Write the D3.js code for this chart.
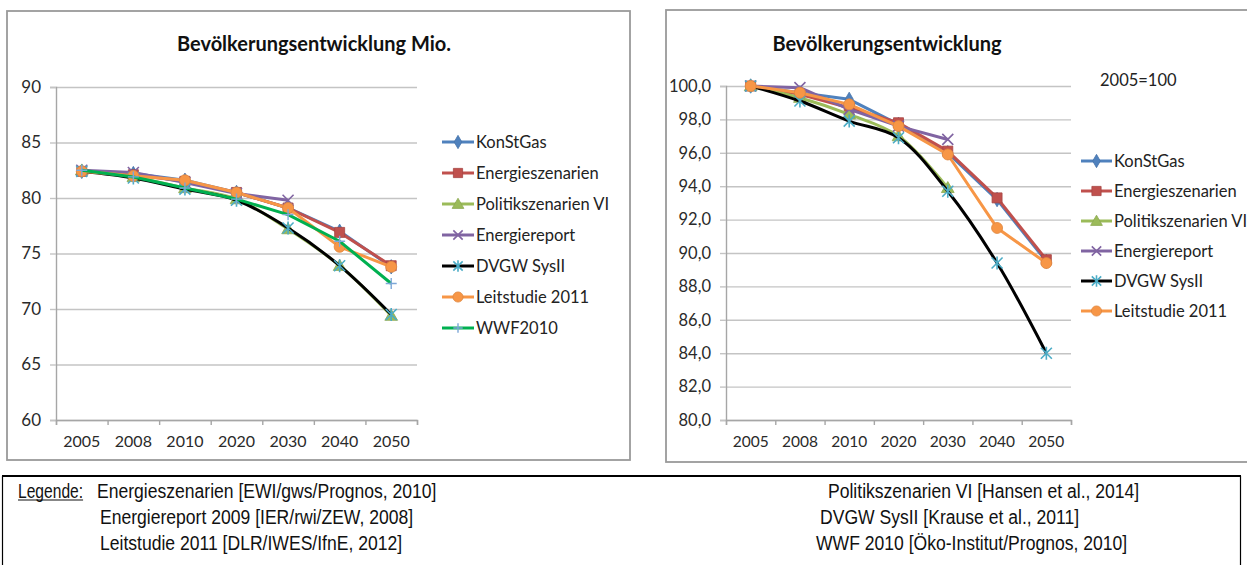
<!DOCTYPE html>
<html><head><meta charset="utf-8">
<script src="https://cdnjs.cloudflare.com/ajax/libs/d3/7.8.5/d3.min.js"></script>
<style>
html,body{margin:0;padding:0;background:#fff;}
svg{display:block;}
</style>
</head><body>
<svg id="c" width="1247" height="565"></svg>
<script>
// ---------- DATA ----------
const categories = ["2005","2008","2010","2020","2030","2040","2050"];
const seriesNames = ["KonStGas","Energieszenarien","Politikszenarien VI","Energiereport","DVGW SysII","Leitstudie 2011","WWF2010"];

// Left chart: Bevölkerung in Mio.
const konstgasMio        = [82.4, 82.2, 81.6, 80.5, 79.1, 77.0, 73.8];
const energieszenarienMio= [82.4, 82.1, 81.5, 80.5, 79.1, 76.9, 73.9];
const politikMio         = [82.5, 81.9, 80.9, 79.9, 77.2, 73.9, 69.4];
const energiereportMio   = [82.5, 82.3, 81.4, 80.4, 79.8, null, null];
const dvgwMio            = [82.4, 81.8, 80.8, 79.8, 77.3, 73.9, 69.5];
const leitstudieMio      = [82.4, 82.0, 81.6, 80.5, 79.1, 75.6, 73.8];
const wwfMio             = [82.5, 81.9, 80.9, 79.9, 78.5, 76.1, 72.3];

// Right chart: index 2005=100
const konstgasIdx        = [100, 99.6, 99.2, 97.7, 96.0, 93.2, 89.5];
const energieszenarienIdx= [100, 99.5, 98.7, 97.8, 96.1, 93.3, 89.6];
const politikIdx         = [100, 99.3, 98.3, 97.0, 93.9, null, null];
const energiereportIdx   = [100, 99.9, 98.6, 97.6, 96.8, null, null];
const dvgwIdx            = [100, 99.1, 97.9, 96.9, 93.7, 89.4, 84.0];
const leitstudieIdx      = [100, 99.6, 98.9, 97.6, 95.9, 91.5, 89.4];

const leftTicks  = [60, 65, 70, 75, 80, 85, 90];
const rightTicks = [80, 82, 84, 86, 88, 90, 92, 94, 96, 98, 100];

const leftTitle  = "Bevölkerungsentwicklung Mio.";
const rightTitle = "Bevölkerungsentwicklung";
const rightNote  = "2005=100";

const legendLabel = "Legende:";
const sourcesLeft  = ["Energieszenarien [EWI/gws/Prognos, 2010]","Energiereport 2009 [IER/rwi/ZEW, 2008]","Leitstudie 2011 [DLR/IWES/IfnE, 2012]"];
const sourcesRight = ["Politikszenarien VI [Hansen et al., 2014]","DVGW SysII [Krause et al., 2011]","WWF 2010 [Öko-Institut/Prognos, 2010]"];

// ---------- STYLES ----------
const styles = {
  "KonStGas":            {line:"#4F81BD", fill:"#4F81BD", marker:"diamond", curve:false},
  "Energieszenarien":    {line:"#C0504D", fill:"#C0504D", marker:"square",  curve:false},
  "Politikszenarien VI": {line:"#9BBB59", fill:"#9BBB59", marker:"triangle",curve:true},
  "Energiereport":       {line:"#8064A2", fill:"#8064A2", marker:"x",       curve:false},
  "DVGW SysII":          {line:"#000000", fill:"#4BACC6", marker:"star",    curve:true},
  "Leitstudie 2011":     {line:"#F79646", fill:"#F79646", marker:"circle",  curve:false},
  "WWF2010":             {line:"#00B050", fill:"#7DA7D8", marker:"plus",    curve:false}
};

const FONT = "Lato, 'Open Sans', sans-serif";
const svg = d3.select("#c");
const commaFmt = d3.formatLocale({decimal:",", thousands:".", grouping:[3], currency:["","€"]}).format(".1f");

function drawMarker(g, type, x, y, st, s) {
  s = s || 1;
  if (type === "square") {
    g.append("path").attr("d", d3.symbol(d3.symbolSquare, 100*s)()).attr("transform",`translate(${x},${y})`)
      .attr("fill", st.fill).attr("stroke", d3.color(st.fill).darker(0.4)).attr("stroke-width",0.8);
  } else if (type === "circle") {
    g.append("path").attr("d", d3.symbol(d3.symbolCircle, 95*s)()).attr("transform",`translate(${x},${y})`)
      .attr("fill", st.fill).attr("stroke", d3.color(st.fill).darker(0.3)).attr("stroke-width",0.8);
  } else if (type === "diamond") {
    g.append("path").attr("d", d3.symbol(d3.symbolDiamond, 60*s)()).attr("transform",`translate(${x},${y})`)
      .attr("fill", st.fill).attr("stroke", d3.color(st.fill).darker(0.3)).attr("stroke-width",0.8);
  } else if (type === "triangle") {
    g.append("path").attr("d", d3.symbol(d3.symbolTriangle, 70*s)()).attr("transform",`translate(${x},${y+1})`)
      .attr("fill", st.fill).attr("stroke", d3.color(st.fill).darker(0.3)).attr("stroke-width",0.8);
  } else if (type === "x") {
    const r = 5.5*s;
    g.append("path").attr("d",`M${x-r},${y-r}L${x+r},${y+r}M${x-r},${y+r}L${x+r},${y-r}`)
      .attr("stroke", st.fill).attr("stroke-width",1.6).attr("fill","none");
  } else if (type === "star") {
    const r = 5.5*s;
    g.append("path").attr("d",`M${x-r},${y-r}L${x+r},${y+r}M${x-r},${y+r}L${x+r},${y-r}M${x},${y-r-1}L${x},${y+r+1}`)
      .attr("stroke", st.fill).attr("stroke-width",1.6).attr("fill","none");
  } else if (type === "plus") {
    const r = 5.5*s;
    g.append("path").attr("d",`M${x-r},${y}L${x+r},${y}M${x},${y-r}L${x},${y+r}`)
      .attr("stroke", st.fill).attr("stroke-width",1.4).attr("fill","none");
  }
}

function drawChart(cfg) {
  const g = svg.append("g");
  g.append("rect").attr("x",cfg.box[0]).attr("y",cfg.box[1]).attr("width",cfg.box[2]-cfg.box[0]).attr("height",cfg.box[3]-cfg.box[1])
    .attr("fill","#fff").attr("stroke","#9A9A9A").attr("stroke-width",1.8);

  const x = d3.scaleBand().domain(categories).range([cfg.x0, cfg.x1]).padding(0);
  const xl = d3.scaleLinear().domain([0, categories.length]).range([cfg.x0, cfg.x1]);
  const y = d3.scaleLinear().domain(cfg.domain).range([cfg.yBottom, cfg.yTop]);

  g.append("g").attr("transform",`translate(${cfg.x0},0)`)
    .call(d3.axisLeft(y).tickValues(cfg.ticks).tickSize(-(cfg.x1-cfg.x0)).tickFormat(""))
    .call(a => a.select(".domain").remove())
    .call(a => a.selectAll("line").attr("stroke","#C4C4C4").attr("stroke-width",1.4));
  g.append("g").attr("transform",`translate(${cfg.x0},0)`)
    .call(d3.axisLeft(y).tickValues(cfg.ticks).tickSize(6).tickPadding(cfg.yPad).tickFormat(cfg.fmt))
    .call(a => a.select(".domain").attr("stroke","#A6A6A6").attr("stroke-width",1.4))
    .call(a => a.selectAll("line").attr("stroke","#C4C4C4").attr("stroke-width",1.4))
    .call(a => a.selectAll("text").attr("font-family",FONT).attr("font-size",cfg.yFont).attr("fill","#2a2a2a"));
  g.append("g").attr("transform",`translate(0,${cfg.yBottom})`)
    .call(d3.axisBottom(xl).tickValues(d3.range(categories.length+1)).tickSize(5).tickFormat(""))
    .call(a => a.select(".domain").attr("stroke","#A6A6A6").attr("stroke-width",1.4))
    .call(a => a.selectAll("line").attr("stroke","#A6A6A6").attr("stroke-width",1.4));
  g.append("g").attr("transform",`translate(0,${cfg.yBottom})`)
    .call(d3.axisBottom(x).tickSize(0).tickPadding(cfg.xPad))
    .call(a => a.select(".domain").remove())
    .call(a => a.selectAll("text").attr("font-family",FONT).attr("font-size",cfg.xFont).attr("fill","#2a2a2a"));

  g.append("text").attr("x",cfg.titleX).attr("y",cfg.titleY).attr("text-anchor","middle").attr("dominant-baseline","central")
    .attr("font-family",FONT).attr("font-weight","bold").attr("font-size",cfg.titleFont).attr("fill","#111").text(cfg.title);
  if (cfg.note) {
    g.append("text").attr("x",cfg.note.x).attr("y",cfg.note.y).attr("dominant-baseline","central")
      .attr("font-family",FONT).attr("font-size",cfg.legFont).attr("fill","#222").text(cfg.note.text);
  }

  const lineGen = d3.line().defined(d => d.v != null).x(d => x(d.c) + x.bandwidth()/2).y(d => y(d.v));
  const marks = g.append("g");
  cfg.series.forEach(s => {
    const st = styles[s.name];
    const pts = categories.map((c,i) => ({c, v:s.values[i]}));
    marks.append("path").datum(pts)
      .attr("d", lineGen.curve(st.curve ? d3.curveCatmullRom.alpha(0.5) : d3.curveLinear))
      .attr("fill","none").attr("stroke",st.line).attr("stroke-width",3).attr("stroke-linejoin","round");
    pts.filter(p => p.v != null).forEach(p => drawMarker(marks, st.marker, x(p.c)+x.bandwidth()/2, y(p.v), st));
  });

  const lg = g.append("g");
  cfg.series.forEach((s,i) => {
    const st = styles[s.name];
    const yy = cfg.legY + i*cfg.legStep;
    lg.append("line").attr("x1",cfg.legX).attr("x2",cfg.legX+cfg.legLen).attr("y1",yy).attr("y2",yy)
      .attr("stroke",st.line).attr("stroke-width",3);
    drawMarker(lg, st.marker, cfg.legX+cfg.legLen/2, yy, st, 0.85);
    lg.append("text").attr("x",cfg.legX+cfg.legLen+2).attr("y",yy).attr("dominant-baseline","central")
      .attr("font-family",FONT).attr("font-size",cfg.legFont).attr("fill","#222").text(s.name);
  });
}

drawChart({
  box:[7,11,630,460], x0:56, x1:417, yTop:87, yBottom:420, domain:[60,90], ticks:leftTicks,
  fmt:d3.format("d"), yPad:9, yFont:17, xPad:16, xFont:16,
  title:leftTitle, titleX:314, titleY:43, titleFont:20,
  legX:442, legLen:32, legY:142, legStep:31, legFont:16.5,
  series:[
    {name:"KonStGas", values:konstgasMio},
    {name:"Energieszenarien", values:energieszenarienMio},
    {name:"Politikszenarien VI", values:politikMio},
    {name:"Energiereport", values:energiereportMio},
    {name:"DVGW SysII", values:dvgwMio},
    {name:"Leitstudie 2011", values:leitstudieMio},
    {name:"WWF2010", values:wwfMio}
  ]
});

drawChart({
  box:[666,10,1290,462], x0:726, x1:1071, yTop:86, yBottom:420, domain:[80,100], ticks:rightTicks,
  fmt:commaFmt, yPad:9, yFont:16.5, xPad:16, xFont:15.5,
  title:rightTitle, titleX:887, titleY:43, titleFont:20,
  note:{x:1100, y:80, text:rightNote},
  legX:1081, legLen:31, legY:161, legStep:30, legFont:16.5,
  series:[
    {name:"KonStGas", values:konstgasIdx},
    {name:"Energieszenarien", values:energieszenarienIdx},
    {name:"Politikszenarien VI", values:politikIdx},
    {name:"Energiereport", values:energiereportIdx},
    {name:"DVGW SysII", values:dvgwIdx},
    {name:"Leitstudie 2011", values:leitstudieIdx}
  ]
});

// ---------- bottom legend box ----------
const LFONT = "'Liberation Sans Narrow','Arial Narrow','Liberation Sans',Arial,sans-serif";
const LSIZE = 19.5, LSQUEEZE = 0.9;
const bl = svg.append("g");
bl.append("line").attr("x1",2).attr("x2",1241).attr("y1",476).attr("y2",476).attr("stroke","#000").attr("stroke-width",2);
bl.append("line").attr("x1",2.5).attr("x2",2.5).attr("y1",476).attr("y2",565).attr("stroke","#000").attr("stroke-width",1.2);
bl.append("line").attr("x1",1240.5).attr("x2",1240.5).attr("y1",476).attr("y2",565).attr("stroke","#000").attr("stroke-width",1.2);
const rowsY = [491, 517, 543];
function legText(x, y, t, squeeze) {
  const el = bl.append("text").attr("x",x).attr("y",y).attr("dominant-baseline","central")
    .attr("font-family",LFONT).attr("font-size",LSIZE).attr("fill","#111").text(t);
  const w = el.node().getComputedTextLength();
  el.attr("textLength", w*squeeze).attr("lengthAdjust","spacingAndGlyphs");
  return w*squeeze;
}
const lw = legText(18, rowsY[0], legendLabel, 0.8);
bl.append("line").attr("x1",18).attr("x2",18+lw).attr("y1",rowsY[0]+9).attr("y2",rowsY[0]+9).attr("stroke","#111").attr("stroke-width",1.2);
sourcesLeft.forEach((t,i) => legText(i===0 ? 97 : 100, rowsY[i], t, LSQUEEZE));
const rightStarts = [828, 820, 816];
sourcesRight.forEach((t,i) => legText(rightStarts[i], rowsY[i], t, LSQUEEZE));
</script>
</body></html>
